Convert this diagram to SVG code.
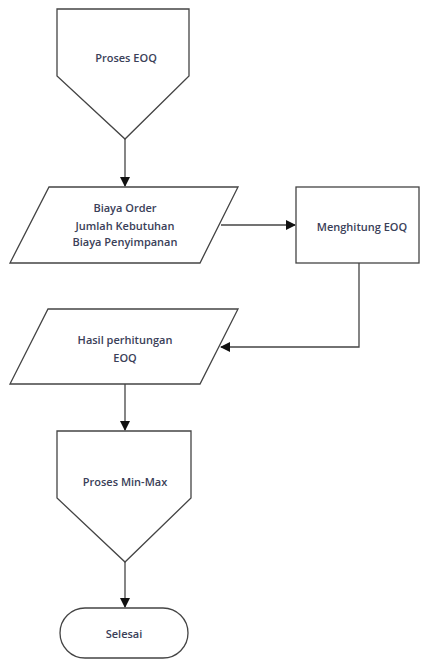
<svg xmlns="http://www.w3.org/2000/svg" width="422" height="660" viewBox="0 0 422 660">
<defs>
<marker id="arr" markerWidth="10" markerHeight="10" refX="9" refY="5" orient="auto" markerUnits="userSpaceOnUse">
<path d="M0,0 L10,5 L0,10 Z" fill="#111"/>
</marker>
<style>
.s{fill:#fff;stroke:#444;stroke-width:1.3}
.c{fill:none;stroke:#444;stroke-width:1.3;marker-end:url(#arr)}
text{font-family:"Open Sans","Liberation Sans",sans-serif;font-size:11px;font-weight:600;fill:#3a4058;text-anchor:middle;dominant-baseline:middle}
</style>
</defs>
<rect width="422" height="660" fill="#fff"/>
<g id="connectors">
<path class="c" d="M125,139 V186"/>
<path class="c" d="M221,225 H295"/>
<path class="c" d="M359,263 V347 H221"/>
<path class="c" d="M125,384 V430"/>
<path class="c" d="M125,562 V607"/>
</g>
<g id="proses-eoq">
<path class="s" d="M57,9 H189 V76 L125,139 L57,76 Z"/>
<text x="126" y="59">Proses EOQ</text>
</g>
<g id="input">
<path class="s" d="M49,187 H238 L200,263 H10 Z"/>
<text x="125" y="209">Biaya Order</text>
<text x="125" y="227">Jumlah Kebutuhan</text>
<text x="125" y="243">Biaya Penyimpanan</text>
</g>
<g id="menghitung">
<rect class="s" x="296" y="187" width="123" height="76"/>
<text x="362" y="228">Menghitung EOQ</text>
</g>
<g id="hasil">
<path class="s" d="M48,309 H238 L200,384 H10 Z"/>
<text x="125" y="341">Hasil perhitungan</text>
<text x="125" y="359">EOQ</text>
</g>
<g id="proses-minmax">
<path class="s" d="M57,431 H191 V498 L125,562 L57,498 Z"/>
<text x="125" y="483">Proses Min-Max</text>
</g>
<g id="selesai">
<rect class="s" x="60" y="608" width="128" height="50" rx="25" ry="25"/>
<text x="124" y="635">Selesai</text>
</g>
</svg>
